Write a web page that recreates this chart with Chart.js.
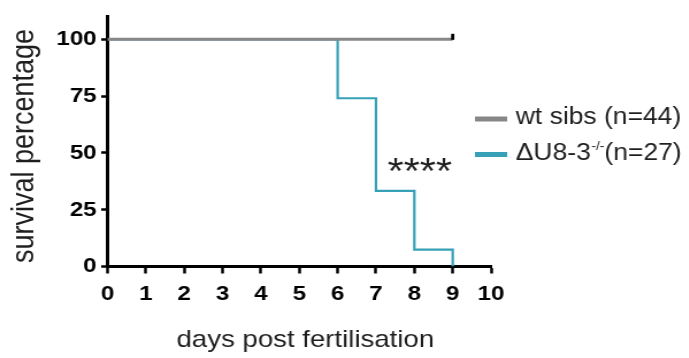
<!DOCTYPE html>
<html><head><meta charset="utf-8">
<script src="https://cdn.jsdelivr.net/npm/chart.js@4.4.1/dist/chart.umd.min.js"></script>
<style>
html,body{margin:0;padding:0;background:#fff;overflow:hidden}
#wrap{width:599px;height:358px;transform:scaleX(1.15);transform-origin:0 0}
</style></head><body>
<div id="wrap"><canvas id="c" width="599" height="358"></canvas></div>
<script>
// ---- data ----
const xTickValues = [0, 1, 2, 3, 4, 5, 6, 7, 8, 9, 10];
const yTickValues = [0, 25, 50, 75, 100];
const wtDays = [0, 9];
const wtSurvival = [100, 100];
const wtCensorDays = [9];
const wtCensorSurvival = [100];
const mutantDays = [0, 6, 7, 8, 9];
const mutantSurvival = [100, 74.07, 33.33, 7.41, 0];
const wtLabel = 'wt sibs (n=44)';
const mutantLabelMain = 'ΔU8-3';
const mutantLabelSup = '-/-';
const mutantLabelTail = '(n=27)';
const significanceLabel = '****';
const xTitle = 'days post fertilisation';
const yTitle = 'survival percentage';

const GREY = '#878787';
const TEAL = '#36a0b6';
const TEXT = '#1e1e1e';
const FONT = '"Liberation Sans", Arial, Helvetica, sans-serif';

const toPoints = (xs, ys) => xs.map((v, i) => ({x: v, y: ys[i]}));

const overlay = {
  id: 'overlay',
  afterDatasetsDraw(chart) {
    const ctx = chart.ctx, xs = chart.scales.x, ys = chart.scales.y;
    ctx.save();
    // censor marks
    ctx.fillStyle = '#000';
    wtCensorDays.forEach((d, i) => {
      const px = xs.getPixelForValue(d), py = ys.getPixelForValue(wtCensorSurvival[i]);
      ctx.fillRect(px - 1.4, py - 5.5, 2.8, 6);
    });
    // significance
    ctx.font = '36px ' + FONT;
    ctx.textAlign = 'center';
    ctx.textBaseline = 'alphabetic';
    ctx.fillStyle = TEXT;
    ctx.fillText(significanceLabel, 365, 184);
    // legend
    ctx.lineWidth = 5;
    ctx.lineCap = 'butt';
    ctx.strokeStyle = GREY;
    ctx.beginPath(); ctx.moveTo(413, 119); ctx.lineTo(441, 119); ctx.stroke();
    ctx.strokeStyle = TEAL;
    ctx.beginPath(); ctx.moveTo(413, 154.5); ctx.lineTo(441, 154.5); ctx.stroke();
    ctx.textAlign = 'left';
    ctx.fillStyle = TEXT;
    ctx.font = '23px ' + FONT;
    ctx.fillText(wtLabel, 448.5, 124);
    let tx = 448.5;
    ctx.fillText(mutantLabelMain, tx, 160);
    tx += ctx.measureText(mutantLabelMain).width;
    ctx.font = '12px ' + FONT;
    ctx.fillText(mutantLabelSup, tx + 0.5, 150);
    tx += ctx.measureText(mutantLabelSup).width + 0.5;
    ctx.font = '23px ' + FONT;
    ctx.fillText(mutantLabelTail, tx, 160);
    // axis titles
    ctx.font = '24px ' + FONT;
    ctx.textAlign = 'center';
    ctx.fillText(xTitle, 265.5, 347);
    ctx.save();
    ctx.translate(28.7, 146);
    ctx.rotate(-Math.PI / 2);
    ctx.font = '27px ' + FONT;
    ctx.fillText(yTitle, 0, 0);
    ctx.restore();
    ctx.restore();
  }
};

new Chart(document.getElementById('c'), {
  type: 'scatter',
  data: {
    datasets: [
      {
        label: wtLabel,
        data: toPoints(wtDays, wtSurvival),
        showLine: true, stepped: 'before',
        borderColor: GREY, borderWidth: 3, pointRadius: 0, fill: false
      },
      {
        label: mutantLabelMain + mutantLabelSup + mutantLabelTail,
        data: toPoints(mutantDays, mutantSurvival),
        showLine: true, stepped: 'before',
        borderColor: TEAL, borderWidth: 2.2, pointRadius: 0, fill: false
      }
    ]
  },
  options: {
    responsive: false,
    animation: false,
    layout: {padding: {top: 11, right: 172, left: 0, bottom: 0}},
    plugins: {legend: {display: false}, tooltip: {enabled: false}},
    scales: {
      x: {
        type: 'linear', min: 0, max: 10,
        afterBuildTicks: s => { s.ticks = xTickValues.map(v => ({value: v})); },
        afterFit: s => { s.height = 91.5; },
        grid: {drawOnChartArea: false, drawTicks: true, tickLength: 7, tickColor: '#000', tickWidth: 2.5, color: '#000'},
        border: {display: true, color: '#000', width: 3},
        ticks: {color: '#000', font: {family: FONT, size: 21, weight: 'bold'}, padding: 8, maxRotation: 0, autoSkip: false},
        title: {display: false}
      },
      y: {
        type: 'linear', min: 0, max: 110,
        afterBuildTicks: s => { s.ticks = yTickValues.map(v => ({value: v})); },
        afterFit: s => { s.width = 93.5; },
        grid: {drawOnChartArea: false, drawTicks: true, tickLength: 5.5, tickColor: '#000', tickWidth: 2.5, color: '#000'},
        border: {display: true, color: '#000', width: 3},
        ticks: {color: '#000', font: {family: FONT, size: 21, weight: 'bold'}, padding: 4, autoSkip: false},
        title: {display: false}
      }
    }
  },
  plugins: [overlay]
});
</script>
</body></html>
